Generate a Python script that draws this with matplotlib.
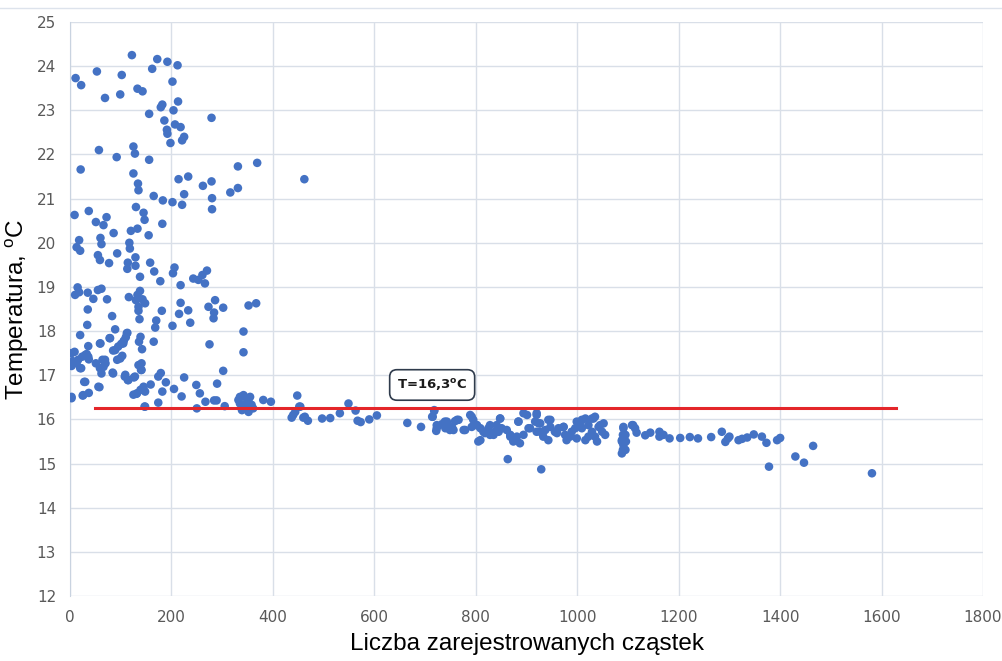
import matplotlib
matplotlib.use("Agg")
from matplotlib import pyplot as plt

# points, grouped by region: (count, temperature)
upper_pts = [
    (122, 24.25), (172, 24.16), (192, 24.1), (212, 24.02), (162, 23.94), (53, 23.88),
    (102, 23.8), (11, 23.73), (22, 23.57), (202, 23.65), (133, 23.49), (143, 23.43),
    (69, 23.28), (99, 23.36), (213, 23.2), (182, 23.13), (179, 23.07), (204, 23.0),
    (156, 22.92), (279, 22.83), (186, 22.77), (207, 22.68), (218, 22.62), (191, 22.56),
    (192, 22.47), (225, 22.4), (221, 22.32), (198, 22.26), (57, 22.1), (125, 22.18),
    (128, 22.02), (92, 21.94), (156, 21.88), (21, 21.66), (331, 21.73), (369, 21.81),
    (462, 21.44), (125, 21.57), (214, 21.44), (233, 21.5), (279, 21.39), (262, 21.29),
    (134, 21.34), (135, 21.19), (225, 21.1), (316, 21.14), (331, 21.24), (165, 21.06),
    (183, 20.96), (202, 20.92), (221, 20.86), (280, 21.01), (280, 20.76), (130, 20.81),
    (9, 20.63), (37, 20.72), (72, 20.58), (145, 20.68), (147, 20.52), (51, 20.47),
    (66, 20.4), (182, 20.43),
]
middle_pts = [
    (86, 20.22), (120, 20.27), (133, 20.32), (155, 20.17), (18, 20.06), (13, 19.9),
    (20, 19.82), (60, 20.11), (62, 19.97), (117, 20.0), (118, 19.87), (55, 19.72),
    (59, 19.61), (77, 19.54), (93, 19.76), (129, 19.67), (114, 19.55), (113, 19.41),
    (129, 19.48), (158, 19.55), (166, 19.35), (138, 19.23), (178, 19.13), (206, 19.44),
    (203, 19.31), (218, 19.04), (243, 19.19), (253, 19.16), (261, 19.27), (270, 19.37),
    (266, 19.08), (15, 18.99), (10, 18.82), (18, 18.88), (35, 18.87), (46, 18.73),
    (55, 18.93), (62, 18.96), (73, 18.72), (116, 18.77), (138, 18.91), (133, 18.82),
    (143, 18.72), (148, 18.63), (135, 18.55), (135, 18.46), (130, 18.7), (181, 18.46),
    (35, 18.49), (218, 18.64), (215, 18.39), (233, 18.47), (237, 18.19), (273, 18.55),
    (286, 18.7), (302, 18.53), (283, 18.29), (284, 18.42), (352, 18.58), (367, 18.63),
    (83, 18.34), (34, 18.14), (137, 18.27), (170, 18.24), (168, 18.08), (202, 18.12),
    (20, 17.91), (36, 17.66), (60, 17.72), (78, 17.84), (89, 18.04), (113, 17.96),
    (139, 17.87), (136, 17.76), (142, 17.59), (165, 17.76), (85, 17.56), (95, 17.65),
    (101, 17.71), (106, 17.78), (110, 17.86), (342, 17.99), (342, 17.52), (275, 17.7),
]
lower_left_pts = [
    (9, 17.53), (5, 17.32), (3, 17.21), (13, 17.27), (24, 17.42), (33, 17.48),
    (37, 17.36), (22, 17.16), (51, 17.27), (64, 17.35), (66, 17.19), (62, 17.04),
    (70, 17.27), (93, 17.35), (103, 17.44), (84, 17.06), (135, 17.23), (141, 17.12),
    (109, 17.01), (114, 16.89), (126, 16.95), (28, 16.85), (58, 16.73), (3, 16.51),
    (25, 16.54), (37, 16.6), (302, 17.1), (290, 16.81), (249, 16.78), (225, 16.95),
    (205, 16.69), (179, 17.05), (174, 16.97), (189, 16.84), (182, 16.63), (159, 16.79),
    (145, 16.74), (148, 16.63), (139, 16.67), (125, 16.56), (131, 16.58), (220, 16.52),
    (174, 16.38), (148, 16.29), (250, 16.25), (256, 16.59), (267, 16.4), (284, 16.43),
    (289, 16.43), (305, 16.3), (381, 16.44), (396, 16.4), (147, 16.29),
    (3, 17.5), (0, 17.23), (16, 17.35), (30, 17.46), (36, 17.42), (20, 17.16),
    (30, 16.85), (26, 16.55), (3, 16.48), (56, 16.74), (69, 17.35), (59, 17.16),
    (85, 17.04), (79, 17.84), (59, 17.72), (89, 17.57), (105, 17.72), (112, 17.95),
    (99, 17.38), (108, 16.97), (115, 16.89), (128, 16.97), (132, 16.59), (141, 17.27),
    (140, 17.12),
]
cluster_pts = [
    (335, 16.51), (342, 16.55), (348, 16.48), (355, 16.51), (335, 16.36), (345, 16.33),
    (352, 16.4), (358, 16.33), (339, 16.21), (352, 16.17), (361, 16.25), (332, 16.44),
]
transition_pts = [
    (448, 16.54), (452, 16.29), (440, 16.1), (463, 16.06), (454, 16.29), (444, 16.17),
    (437, 16.04), (460, 16.04), (469, 15.97), (497, 16.02), (513, 16.03), (532, 16.14),
    (549, 16.36), (563, 16.2), (567, 15.97), (573, 15.94), (590, 16.0), (605, 16.09),
    (665, 15.92), (692, 15.83), (718, 16.19), (714, 16.06),
]
band_pts = [
    (718, 16.21), (715, 16.06), (723, 15.87), (722, 15.74), (733, 15.89), (743, 15.95),
    (740, 15.8), (753, 15.83), (759, 15.96), (766, 15.99), (756, 15.76), (776, 15.76),
    (789, 16.1), (795, 15.99), (792, 15.83), (802, 15.87), (809, 15.8), (805, 15.5),
    (815, 15.72), (825, 15.8), (828, 15.65), (835, 15.65), (841, 15.87), (848, 16.02),
    (845, 15.72), (851, 15.8), (861, 15.76), (868, 15.65), (874, 15.53), (881, 15.61),
    (884, 15.95), (887, 15.46), (894, 15.65), (901, 16.1), (907, 15.8), (917, 15.95),
    (920, 15.72), (920, 16.1), (924, 15.91), (927, 15.72), (933, 15.61), (943, 15.99),
    (947, 15.83), (943, 15.53), (956, 15.72), (963, 15.8), (973, 15.83), (976, 15.65),
    (979, 15.53), (989, 15.72), (996, 15.8), (999, 15.57), (1006, 15.91), (1009, 15.99),
    (1016, 16.02), (1022, 15.87), (1022, 15.61), (1029, 15.72), (1032, 16.02),
    (1035, 16.06), (1039, 15.5), (1042, 15.83), (1049, 15.72), (1055, 15.65),
    (1052, 15.91), (1091, 15.83), (1095, 15.65), (1088, 15.53), (1091, 15.42),
    (1108, 15.87), (1114, 15.8), (1095, 15.31), (863, 15.1), (929, 14.87),
    (723, 15.8), (739, 15.95), (749, 15.76), (763, 15.99), (779, 15.76), (792, 16.06),
    (802, 15.87), (809, 15.53), (818, 15.69), (828, 15.87), (838, 15.72), (848, 16.02),
    (868, 15.61), (874, 15.5), (884, 15.95), (894, 16.14), (904, 15.8), (920, 16.14),
    (927, 15.91), (937, 15.76), (947, 15.99), (960, 15.69), (973, 15.83), (986, 15.61),
    (999, 15.95), (1009, 15.8), (1016, 15.53), (1029, 16.02), (1035, 15.61), (1045, 15.87),
]
tail_pts = [
    (1091, 15.8), (1090, 15.65), (1088, 15.5), (1096, 15.5), (1090, 15.31), (1088, 15.23),
    (1110, 15.87), (1117, 15.7), (1134, 15.64), (1144, 15.7), (1162, 15.72), (1162, 15.61),
    (1170, 15.65), (1182, 15.57), (1203, 15.58), (1222, 15.6), (1238, 15.57), (1264, 15.6),
    (1285, 15.72), (1292, 15.49), (1297, 15.57), (1300, 15.61), (1318, 15.53), (1325, 15.56),
    (1335, 15.59), (1348, 15.66), (1364, 15.61), (1373, 15.47), (1394, 15.53), (1400, 15.58),
    (1378, 14.93), (1430, 15.16), (1447, 15.02), (1465, 15.4), (1581, 14.78),
]

threshold_T = 16.25
threshold_x = [50, 1628]
x_ticks = list(range(0, 1801, 200))
y_ticks = list(range(12, 26))

all_pts = upper_pts + middle_pts + lower_left_pts + cluster_pts + transition_pts + band_pts + tail_pts
xs = [p[0] for p in all_pts]
ys = [p[1] for p in all_pts]

fig = plt.figure(figsize=(10.03, 6.61), dpi=100)
ax = fig.add_axes([0.0698, 0.0983, 0.9103, 0.8684])

ax.scatter(xs, ys, s=38, color='#4472C4', edgecolors='none', zorder=3)
ax.plot(threshold_x, [threshold_T, threshold_T], color='#E4262A', lw=2.2, zorder=4)

ax.text(714, 16.78, 'T=16,3$^{\\mathregular{o}}$C', ha='center', va='center',
        fontsize=9.5, fontweight='bold', color='#1a1a1a', zorder=5,
        bbox=dict(boxstyle='round,pad=0.55', fc='white', ec='#2F3B4C', lw=1.2))

ax.set_xlim(0, 1800)
ax.set_ylim(12, 25)
ax.set_xticks(x_ticks)
ax.set_yticks(y_ticks)
ax.grid(True, color='#D9DFE8', lw=1.0)
ax.set_axisbelow(True)
ax.tick_params(length=0, labelsize=11, labelcolor='#595959', pad=10)
for sp in ax.spines.values():
    sp.set_visible(False)
ax.spines['left'].set_visible(True)
ax.spines['left'].set_color('#C9D3E0')

ax.set_xlabel('Liczba zarejestrowanych cząstek', fontsize=17.5, family='Liberation Sans', labelpad=6)
ax.set_ylabel('Temperatura, $^{\\mathregular{o}}$C', fontsize=17.5, family='Liberation Sans', labelpad=4)

fig.add_artist(plt.Line2D([0, 1], [1 - 8 / 661] * 2, color='#DDE3EC', lw=1))

fig.savefig('out.png', dpi=100)
